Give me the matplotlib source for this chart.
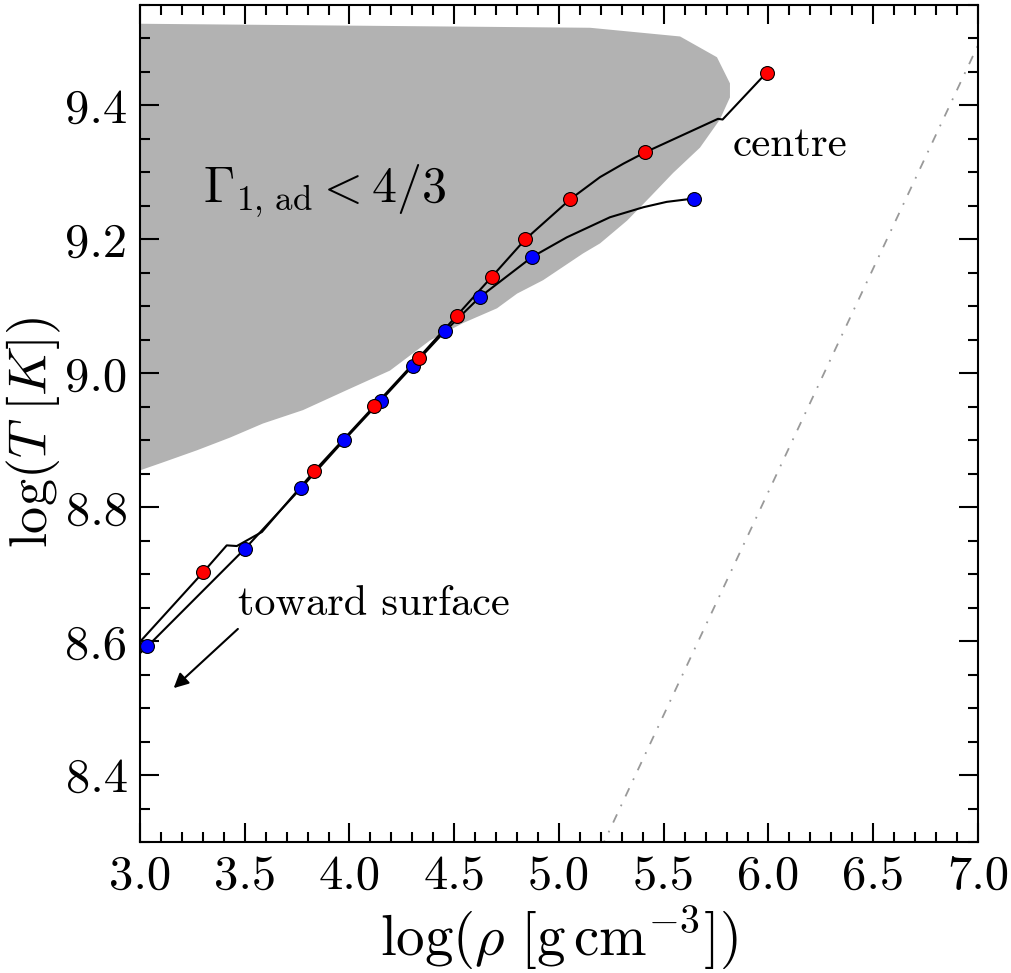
import matplotlib
matplotlib.use('Agg')
import matplotlib.pyplot as plt
import numpy as np

plt.rcParams['mathtext.fontset'] = 'cm'
plt.rcParams['font.family'] = 'serif'
plt.rcParams['font.serif'] = ['cmr10', 'DejaVu Serif']
plt.rcParams['axes.formatter.use_mathtext'] = True

# profile of the red model (centre -> surface)
red_rho = [5.991, 5.781, 5.759, 5.411, 5.307, 5.196, 5.054, 4.839, 4.679, 4.512, 4.330,
           4.118, 3.832, 3.582, 3.462, 3.414, 3.302, 3.0]
red_T = [9.449, 9.379, 9.380, 9.330, 9.313, 9.293, 9.260, 9.200, 9.144, 9.086, 9.023,
         8.951, 8.854, 8.763, 8.742, 8.743, 8.703, 8.599]
red_mark_rho = [5.991, 5.411, 5.054, 4.839, 4.679, 4.512, 4.330, 4.118, 3.832, 3.302]
red_mark_T = [9.449, 9.330, 9.260, 9.200, 9.144, 9.086, 9.023, 8.951, 8.854, 8.703]

# profile of the blue model
blue_rho = [5.644, 5.514, 5.403, 5.243, 5.037, 4.873, 4.623, 4.456, 4.302, 4.149, 3.974,
            3.770, 3.501, 3.035, 3.0]
blue_T = [9.261, 9.256, 9.248, 9.233, 9.203, 9.174, 9.114, 9.063, 9.011, 8.959, 8.900,
          8.829, 8.738, 8.592, 8.582]
blue_mark_rho = [5.644, 4.873, 4.623, 4.456, 4.302, 4.149, 3.974, 3.770, 3.501, 3.035]
blue_mark_T = [9.261, 9.174, 9.114, 9.063, 9.011, 8.959, 8.900, 8.829, 8.738, 8.592]

# outline of the Gamma_1 < 4/3 region
gam_rho = [3.0, 5.148, 5.578, 5.754, 5.816, 5.816, 5.768, 5.673, 5.544, 5.434, 5.325,
           5.196, 5.115, 4.924, 4.800, 4.704, 4.542, 4.384, 4.193, 3.988, 3.778,
           3.587, 3.430, 3.272, 3.110, 3.0]
gam_T = [9.522, 9.516, 9.503, 9.472, 9.433, 9.412, 9.379, 9.337, 9.299, 9.263, 9.228,
         9.194, 9.179, 9.139, 9.119, 9.097, 9.075, 9.049, 9.004, 8.975, 8.945,
         8.925, 8.904, 8.885, 8.867, 8.855]

# degeneracy line log T = 2/3 log rho + c
deg_rho = [5.2, 7.0]
deg_T = [8.290, 9.490]

fig = plt.figure(figsize=(10.11, 9.73), dpi=100)
ax = fig.add_axes([140/1011, 131/973, 838/1011, 837/973])

ax.fill(gam_rho, gam_T, color='#b2b2b2', lw=0, zorder=1)
ax.plot(deg_rho, deg_T, color='#999999', lw=1.3, dashes=(5, 5, 1, 5), zorder=2)

ax.plot(red_rho, red_T, color='k', lw=1.5, zorder=3)
ax.plot(blue_rho, blue_T, color='k', lw=1.5, zorder=3)
ax.plot(blue_mark_rho, blue_mark_T, 'o', color='#0000ff', mec='k', mew=0.8, ms=10, zorder=4)
ax.plot(red_mark_rho, red_mark_T, 'o', color='#ff0000', mec='k', mew=0.8, ms=10, zorder=5)

ax.text(3.30, 9.255, r'$\Gamma_{1,\,\mathrm{ad}} < 4/3$', fontsize=36, va='baseline')
ax.text(5.831, 9.325, 'centre', fontsize=31, va='baseline')
ax.text(3.468, 8.639, 'toward surface', fontsize=30.5, va='baseline')
ax.annotate('', xy=(3.151, 8.527), xytext=(3.477, 8.621),
            arrowprops=dict(arrowstyle='-|>', color='k', lw=1.5, mutation_scale=22))

ax.set_xlim(3.0, 7.0)
ax.set_ylim(8.30, 9.55)
ax.set_xticks(np.arange(3.0, 7.01, 0.5))
ax.set_xticks(np.arange(3.0, 7.01, 0.1), minor=True)
ax.set_yticks([8.4, 8.6, 8.8, 9.0, 9.2, 9.4])
ax.set_yticks(np.arange(8.30, 9.551, 0.05), minor=True)
ax.set_xticklabels(['3.0', '3.5', '4.0', '4.5', '5.0', '5.5', '6.0', '6.5', '7.0'])
ax.set_yticklabels(['8.4', '8.6', '8.8', '9.0', '9.2', '9.4'])
ax.tick_params(which='both', direction='in', top=True, right=True, width=1.5)
ax.tick_params(which='major', length=14, labelsize=35, pad=9)
ax.tick_params(which='minor', length=7)
for s in ax.spines.values():
    s.set_linewidth(1.5)

ax.set_xlabel(r'$\log(\rho\ [\mathrm{g\,cm}^{-3}])$', fontsize=41)
ax.set_ylabel(r'$\log(T\ [K])$', fontsize=39)
ax.yaxis.set_label_coords(-0.092, 0.49)
ax.xaxis.set_label_coords(0.5, -0.075)

fig.savefig('out.png', dpi=100)
